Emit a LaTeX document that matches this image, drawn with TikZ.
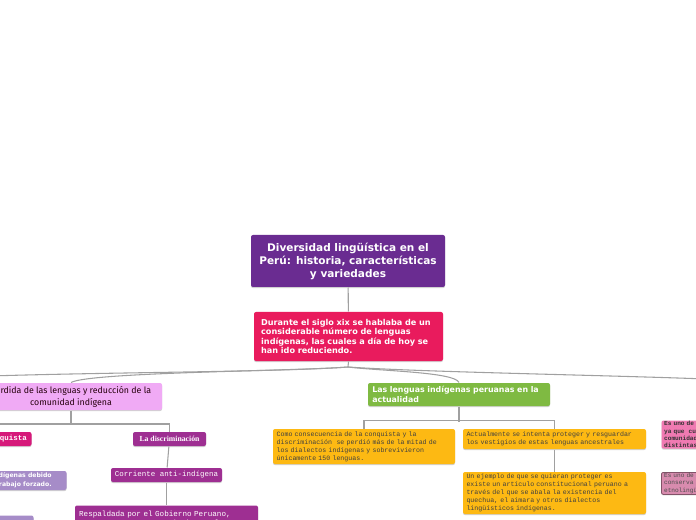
\documentclass[tikz,border=0pt]{standalone}
\usepackage{fontspec}
\setmainfont{DejaVu Sans}
\newfontfamily\courfont{Liberation Mono}
\newfontfamily\handfont{Fira Sans}
\newfontfamily\serfont{Liberation Serif}
\usetikzlibrary{shadows}

\definecolor{rootpurple}{RGB}{106,44,145}
\definecolor{crimson}{RGB}{233,27,93}
\definecolor{lilac}{RGB}{240,170,245}
\definecolor{leafgreen}{RGB}{127,186,66}
\definecolor{conqpink}{RGB}{214,25,122}
\definecolor{discpurple}{RGB}{158,47,146}
\definecolor{lavgray}{RGB}{166,140,200}
\definecolor{amber}{RGB}{253,185,19}
\definecolor{rosepink}{RGB}{240,122,178}
\definecolor{mauve}{RGB}{216,139,174}
\definecolor{linkgray}{RGB}{160,160,160}

\tikzset{
	mapbox/.style={rectangle, rounded corners=1.5pt, inner sep=0pt, align=left, text=white,
		drop shadow={shadow xshift=0pt, shadow yshift=-0.8pt, fill=black, opacity=0.18}},
	monotext/.style={font=\courfont\fontsize{4.95}{6}\selectfont},
	link/.style={draw=linkgray, line width=0.8pt}
}
\tikzset{every picture/.style={line width=0.75pt}}

\begin{document}
\begin{tikzpicture}[x=0.75pt,y=0.75pt,yscale=-1,xscale=1]
	\useasboundingbox (0,0) rectangle (696,520);
	\clip (0,0) rectangle (696,520);

	% Root
	\node [mapbox, fill=rootpurple, align=center, minimum width=145.5pt, minimum height=39pt,
		font=\bfseries\fontsize{7.9}{9.75}\selectfont] (root) at (348,261)
		{Diversidad lingüística en el\\Perú: historia, características\\y variedades};
	% Second level
	\node [mapbox, fill=crimson, minimum width=141.75pt, minimum height=36.75pt, text width=131pt,
		font=\bfseries\fontsize{6.1}{7.1}\selectfont] (siglo) at (348.5,336.5)
		{Durante el siglo xix se hablaba de un\\considerable número de lenguas\\indígenas, las cuales a día de hoy se\\han ido reduciendo.};

	% Branches
	\node [mapbox, fill=lilac, text=black!80!purple, align=center, minimum width=136.5pt, minimum height=20.25pt,
		font=\handfont\fontsize{6.6}{9}\selectfont] (perdida) at (71,396.5)
		{Pérdida de las lenguas y reducción de la\\comunidad indígena};
	\node [mapbox, fill=leafgreen, minimum width=136.5pt, minimum height=17.25pt, text width=130pt,
		font=\bfseries\fontsize{5.9}{7}\selectfont] (actual) at (459,394.5)
		{Las lenguas indígenas peruanas en la\\actualidad};

	% Left subtree
	\node [mapbox, fill=conqpink, align=center, minimum width=47.25pt, minimum height=10.5pt,
		font=\courfont\bfseries\fontsize{5.6}{6.5}\selectfont] (conquista) at (0,439) {La conquista};
	\node [mapbox, fill=discpurple, align=center, minimum width=54.75pt, minimum height=10.5pt,
		font=\serfont\bfseries\fontsize{5.8}{6.5}\selectfont] (discrim) at (169.5,439) {La discriminación};
	\node [mapbox, fill=lavgray, align=right, minimum width=95pt, minimum height=14.25pt, anchor=east,
		font=\bfseries\fontsize{4.6}{6.6}\selectfont] (muerte) at (67,480.5)
		{Muerte de indígenas debido~\\ al trabajo forzado.~};
	\node [mapbox, fill=lavgray, minimum width=60pt, minimum height=15pt, anchor=north east] (bajo) at (34,515) {};
	\node [mapbox, fill=discpurple, align=center, minimum width=83.25pt, minimum height=10.5pt,
		font=\courfont\fontsize{5.6}{6.5}\selectfont] (corriente) at (166.5,475) {Corriente anti-indígena};
	\node [mapbox, fill=discpurple, minimum width=137.25pt, minimum height=26pt, text width=131pt, anchor=north,
		font=\courfont\fontsize{5.7}{6.3}\selectfont] (respaldo) at (166.5,505)
		{\vspace{0.5pt}Respaldada por el Gobierno Peruano,\\que se encargo que predominara el\\castellano.};

	% Right subtree
	\node [mapbox, fill=amber, text=black!75, minimum width=136.5pt, minimum height=26.25pt, text width=131pt,
		monotext] (consec) at (364,446.5)
		{Como consecuencia de la conquista y la\\discriminación~ se perdió más de la mitad de\\los dialectos indígenas y sobrevivieron\\únicamente 150 lenguas.};
	\node [mapbox, fill=amber, text=black!75, minimum width=137.25pt, minimum height=15pt, text width=132pt,
		monotext] (proteger) at (554.5,439)
		{Actualmente se intenta proteger y resguardar\\los vestigios de estas lenguas ancestrales};
	\node [mapbox, fill=amber, text=black!75, minimum width=137.25pt, minimum height=31.5pt, text width=132pt,
		monotext] (ejemplo) at (554.5,493)
		{Un ejemplo de que se quieran proteger es\\existe un artículo constitucional peruano a\\través del que se abala la existencia del\\quechua, el aimara y otros dialectos\\lingüísticos indígenas.};

	% Far right
	\node [mapbox, fill=rosepink, text=black!80, anchor=north west, minimum width=100pt, minimum height=21pt,
		text width=96pt, font=\courfont\bfseries\fontsize{4.6}{5.4}\selectfont] (paises) at (661,420)
		{Es uno de los países\\ya que~ cuenta con\\comunidades\\distintas};
	\node [mapbox, fill=mauve, draw=mauve!60!black, line width=0.6pt, text=black!70, anchor=north west,
		minimum width=100pt, minimum height=16.5pt, text width=96pt,
		font=\courfont\fontsize{4.6}{5.6}\selectfont] (conserva) at (661,472)
		{Es uno de los que\\conserva su\\etnolingüística};

	% Connectors
	\coordinate (hub) at (348,367);
	\coordinate (farL) at (-10,376);
	\coordinate (farR) at (706,379);
	\coordinate (lbarL) at (-10,424);
	\draw [link] (root) -- (siglo);
	\draw [link] (siglo.south) -- (hub);
	\draw [link] (hub) .. controls (300,371) and (90,372) .. (perdida.north);
	\draw [link] (hub) .. controls (280,372) and (120,372) .. (farL);
	\draw [link] (hub) .. controls (380,371) and (455,372) .. (actual.north);
	\draw [link] (hub) .. controls (420,372) and (600,375) .. (farR);
	\draw [link] (perdida.south) -- ++(0,14);
	\draw [link] (lbarL) -| (discrim.north);
	\draw [link] (discrim) -- (corriente);
	\draw [link] (corriente) -- (respaldo);
	\draw [link] (actual.south) -- ++(0,15);
	\draw [link] (consec.north) -- ++(0,-8) -| (proteger.north);
	\draw [link] (proteger) -- (ejemplo);

\end{tikzpicture}
\end{document}
